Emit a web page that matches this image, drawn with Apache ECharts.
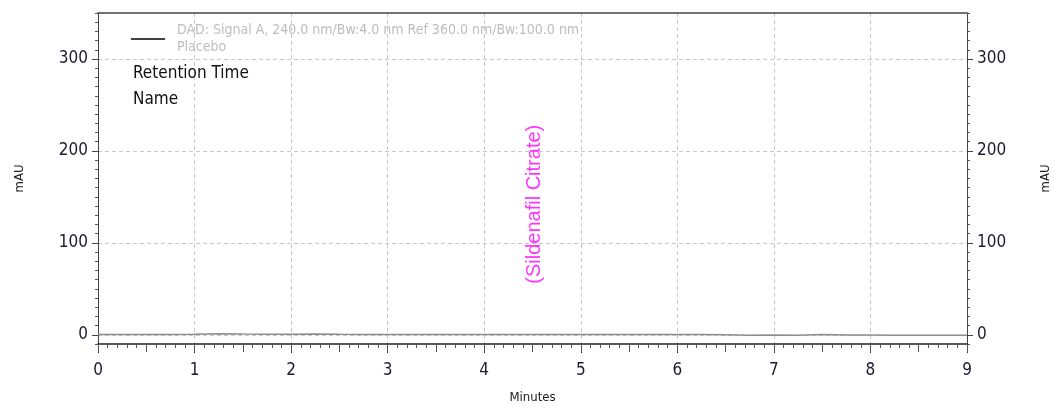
<!DOCTYPE html>
<html>
<head>
<meta charset="utf-8">
<script src="https://cdn.jsdelivr.net/npm/echarts@6/dist/echarts.min.js"></script>
<style>
  html, body { margin: 0; padding: 0; background: #fff; }
  #chart { width: 1055px; height: 407px; }
</style>
</head>
<body>
<div id="chart"></div>
<script>
// signal trace (minutes, mAU) - flat placebo baseline
const traceTimes = [0, 0.25, 0.5, 0.75, 1, 1.25, 1.5, 1.75, 2, 2.25, 2.5, 2.75, 3, 3.25, 3.5, 3.75, 4, 4.25, 4.5, 4.75, 5, 5.25, 5.5, 5.75, 6, 6.25, 6.5, 6.75, 7, 7.25, 7.5, 7.75, 8, 8.25, 8.5, 8.75, 9];
const traceValues = [0.3, 0.3, 0.4, 0.4, 0.5, 1.2, 0.8, 0.5, 0.6, 1.0, 0.5, 0.4, 0.4, 0.3, 0.3, 0.3, 0.3, 0.3, 0.3, 0.3, 0.3, 0.3, 0.3, 0.3, 0.3, 0.2, 0.0, -0.4, -0.3, -0.4, 0.3, -0.2, -0.3, -0.5, -0.5, -0.5, -0.5];

// peak name annotation (retention time, label height)
const peakNames = ['(Sildenafil Citrate)'];
const peakTimes = [4.52];
const peakLabelY = [142];

// axis ticks
const yMajor = [0, 100, 200, 300];
const signalName = 'DAD: Signal A, 240.0 nm/Bw:4.0 nm Ref 360.0 nm/Bw:100.0 nm\nPlacebo';

const narrow = '"DejaVu Sans Condensed", "Liberation Sans Narrow", "Liberation Sans", sans-serif';

const chart = echarts.init(document.getElementById('chart'));

const minorYAxis = (pos) => ({
  type: 'value', position: pos, min: -10, max: 350, interval: 10,
  axisLine: { show: true, onZero: false, lineStyle: { color: '#444', width: 1 } },
  axisTick: { show: true, length: 3, lineStyle: { color: '#555' } },
  axisLabel: { show: false },
  splitLine: { show: false },
  name: 'mAU', nameLocation: 'middle', nameGap: 72,
  nameTextStyle: { fontFamily: narrow, fontSize: 13, color: '#222' }
});
const majorYAxis = (pos, grid) => ({
  type: 'value', position: pos, min: -10, max: 350,
  axisLine: { show: false, onZero: false },
  axisTick: { show: true, length: 6, customValues: yMajor, lineStyle: { color: '#444' } },
  axisLabel: { show: true, customValues: yMajor, fontFamily: narrow, fontSize: 17, color: '#1c1c30', margin: 10 },
  splitLine: { show: grid, lineStyle: { type: [4, 3], color: '#c8c8c8' } }
});

chart.setOption({
  animation: false,
  grid: { left: 98, right: 88, top: 13, bottom: 63, outerBoundsMode: 'none', containLabel: false },
  title: {
    text: 'Retention Time\nName',
    left: 128, top: 56,
    textStyle: { fontFamily: narrow, fontSize: 17, fontWeight: 'normal', color: '#111', lineHeight: 26 }
  },
  legend: {
    left: 131, top: 22, padding: 0,
    icon: 'rect', itemWidth: 34, itemHeight: 1.5,
    data: [{ name: signalName, itemStyle: { color: '#000' } }],
    textStyle: { fontFamily: narrow, fontSize: 14, color: '#bdbdbd', lineHeight: 17, padding: [0, 0, 0, 7] },
    selectedMode: false
  },
  xAxis: [
    {
      type: 'value', position: 'bottom', min: 0, max: 9, interval: 1,
      axisLine: { show: true, onZero: false, lineStyle: { color: '#222', width: 1.5 } },
      axisTick: { show: true, length: 9, lineStyle: { color: '#333' } },
      minorTick: { show: true, splitNumber: 10, length: 4, lineStyle: { color: '#555' } },
      axisLabel: { fontFamily: narrow, fontSize: 17, color: '#1c1c30', margin: 18 },
      splitLine: { show: true, lineStyle: { type: [4, 3], color: '#c8c8c8' } },
      name: 'Minutes', nameLocation: 'middle', nameGap: 47,
      nameTextStyle: { fontFamily: narrow, fontSize: 13, color: '#222' }
    },
    {
      type: 'value', position: 'bottom', min: 0, max: 9, interval: 0.5,
      axisLine: { show: false, onZero: false },
      axisTick: { show: true, length: 8, lineStyle: { color: '#555' } },
      axisLabel: { show: false },
      splitLine: { show: false }
    },
    {
      type: 'value', position: 'top', min: 0, max: 9,
      axisLine: { show: true, onZero: false, lineStyle: { color: '#444', width: 1.5 } },
      axisTick: { show: false }, axisLabel: { show: false }, splitLine: { show: false }
    }
  ],
  yAxis: [
    minorYAxis('left'),
    majorYAxis('left', true),
    minorYAxis('right'),
    majorYAxis('right', false)
  ],
  series: [
    {
      name: signalName,
      type: 'line',
      xAxisIndex: 0, yAxisIndex: 0,
      showSymbol: false,
      lineStyle: { color: '#8c8c8c', width: 1.5 },
      itemStyle: { color: '#8c8c8c' },
      data: traceTimes.map((t, i) => [t, traceValues[i]])
    },
    {
      name: 'peaks',
      type: 'scatter',
      xAxisIndex: 0, yAxisIndex: 0,
      symbolSize: 0,
      silent: true,
      label: {
        show: true, position: 'inside', rotate: 90,
        formatter: (p) => p.name,
        fontFamily: '"Liberation Sans", Arial, sans-serif', fontSize: 20, color: '#ff00ff'
      },
      data: peakNames.map((n, i) => ({ name: n, value: [peakTimes[i], peakLabelY[i]] }))
    }
  ]
});
</script>
</body>
</html>
